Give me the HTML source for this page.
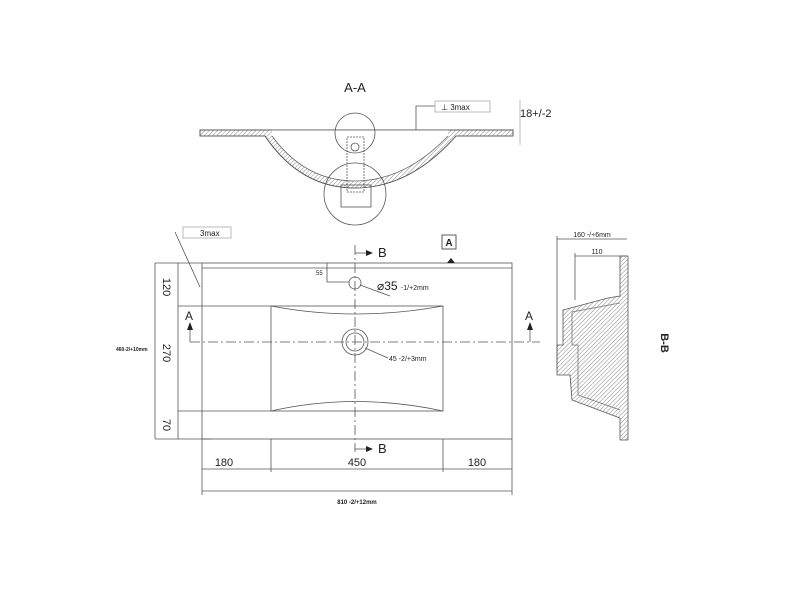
<!DOCTYPE html>
<html><head><style>body{margin:0;background:#fff}svg{display:block}text{font-family:"Liberation Sans",sans-serif;fill:#222}</style></head><body>
<svg width="800" height="600" viewBox="0 0 800 600" xmlns="http://www.w3.org/2000/svg">
<defs><pattern id="h" width="3" height="3" patternUnits="userSpaceOnUse" patternTransform="rotate(45)"><line x1="0" y1="0" x2="0" y2="3" stroke="#888" stroke-width="1"/></pattern></defs>
<g stroke="#555" stroke-width="0.8" fill="none">
<!-- A-A -->
<path d="M200 130 L513 130 L513 136 L456 136 Q410 188 355 188 Q300 188 265 136 L200 136 Z" fill="url(#h)"/>
<path d="M200 130 L513 130 L513 136 L456 136 Q410 188 355 188 Q300 188 265 136 L200 136 Z" fill="none"/>
<path d="M272 130 L448 130 L448 136 Q405 181 355 181 Q305 181 272 136 Z" fill="#fff" stroke="none"/>
<path d="M272 136 Q305 181 355 181 Q405 181 448 136" stroke="#666"/>
<line x1="200" y1="130" x2="513" y2="130"/>
<circle cx="355" cy="133" r="20"/><circle cx="355" cy="194" r="31"/>
<rect x="347" y="137" width="17" height="55" stroke-dasharray="2 1"/>
<rect x="341" y="185" width="30" height="22"/>
<circle cx="355" cy="147" r="4"/>
<polyline points="416,130 416,106 435,106"/><rect x="435" y="101" width="55" height="11" stroke="#aaa"/>
<line x1="520" y1="100" x2="520" y2="145" stroke="#aaa"/>
<!-- plan -->
<rect x="202" y="263" width="310" height="176"/>
<line x1="202" y1="268" x2="512" y2="268"/>
<rect x="271" y="306" width="172" height="105"/>
<path d="M271 306 Q355 322 443 306"/><path d="M271 411 Q355 392 443 411"/>
<line x1="178" y1="306" x2="271" y2="306"/><line x1="178" y1="411" x2="271" y2="411"/>
<line x1="155" y1="263" x2="202" y2="263"/><line x1="155" y1="439" x2="212" y2="439"/>
<line x1="155" y1="263" x2="155" y2="439"/><line x1="178" y1="263" x2="178" y2="439"/>
<line x1="190" y1="342" x2="540" y2="342" stroke-dasharray="10 3 2 3"/>
<line x1="355" y1="245" x2="355" y2="452" stroke-dasharray="10 3 2 3"/>
<circle cx="355" cy="342" r="13"/><circle cx="355" cy="342" r="9"/>
<circle cx="355" cy="283" r="6"/>
<polyline points="327,263 327,282 349,282"/>
<line x1="360" y1="285" x2="390" y2="296"/><line x1="365" y1="348" x2="388" y2="358"/>
<line x1="202" y1="439" x2="202" y2="495"/><line x1="271" y1="439" x2="271" y2="472"/><line x1="443" y1="439" x2="443" y2="472"/><line x1="512" y1="439" x2="512" y2="495"/>
<line x1="202" y1="469" x2="512" y2="469"/><line x1="202" y1="491" x2="512" y2="491"/>
<line x1="175" y1="232" x2="200" y2="287"/><rect x="183" y="227" width="48" height="11" stroke="#aaa"/>
<line x1="355" y1="253" x2="367" y2="253"/><line x1="355" y1="449" x2="367" y2="449"/>
<line x1="190" y1="342" x2="190" y2="328"/><line x1="530" y1="342" x2="530" y2="328"/>
<!-- B-B -->
<line x1="557" y1="239" x2="627" y2="239"/><line x1="575" y1="256" x2="627" y2="256"/>
<line x1="557" y1="236" x2="557" y2="370"/><line x1="575" y1="253" x2="575" y2="300"/>
<path d="M620 256 L628 256 L628 440 L620 440 L620 418 L572 400 L570 375 L557 375 L557 345 L563 345 L563 310 L608 298 L620 296 Z" fill="url(#h)"/>
<path d="M620 303 L572 312 L572 345 L578 345 L578 395 L620 410" stroke="#777"/>
</g>
<g fill="#222"><polygon points="373,253 366,250 366,256"/><polygon points="373,449 366,446 366,452"/><polygon points="190,322 187,330 193,330"/><polygon points="530,322 527,330 533,330"/><polygon points="447,263 451,258 455,263"/></g>
<rect x="442" y="235" width="14" height="14" fill="none" stroke="#333" stroke-width="0.8"/>
<text x="449" y="246" font-size="10" font-weight="bold" text-anchor="middle" font-family="Liberation Serif">A</text>
<text x="355" y="92" font-size="13" text-anchor="middle">A-A</text>
<text x="520" y="117" font-size="11">18+/-2</text>
<text x="441" y="110" font-size="8" fill="#aaa">⊥ 3max</text>
<text x="200" y="236" font-size="8" fill="#aaa">3max</text>
<text x="378" y="257" font-size="13">B</text><text x="378" y="453" font-size="13">B</text>
<text x="185" y="320" font-size="12">A</text><text x="525" y="320" font-size="12">A</text>
<text x="377" y="290" font-size="12">⌀35 <tspan font-size="7">-1/+2mm</tspan></text>
<text x="389" y="361" font-size="7">45 -2/+3mm</text>
<text x="316" y="275" font-size="6" font-family="Liberation Serif">55</text>
<text x="224" y="466" font-size="11" text-anchor="middle">180</text>
<text x="357" y="466" font-size="11" text-anchor="middle">450</text>
<text x="477" y="466" font-size="11" text-anchor="middle">180</text>
<text x="357" y="504" font-size="6" text-anchor="middle" font-family="Liberation Serif" font-weight="bold">810 -2/+12mm</text>
<text x="116" y="351" font-size="5" font-family="Liberation Serif" font-weight="bold">460-2/+10mm</text>
<text transform="translate(163,287) rotate(90)" font-size="11" text-anchor="middle">120</text>
<text transform="translate(163,353) rotate(90)" font-size="11" text-anchor="middle">270</text>
<text transform="translate(163,425) rotate(90)" font-size="11" text-anchor="middle">70</text>
<text x="592" y="237" font-size="7" text-anchor="middle">160 -/+6mm</text>
<text x="597" y="254" font-size="7" text-anchor="middle">110</text>
<text transform="translate(661,343) rotate(90)" font-size="11" font-weight="bold" text-anchor="middle" font-family="Liberation Serif">B-B</text>
</svg>
</body></html>
